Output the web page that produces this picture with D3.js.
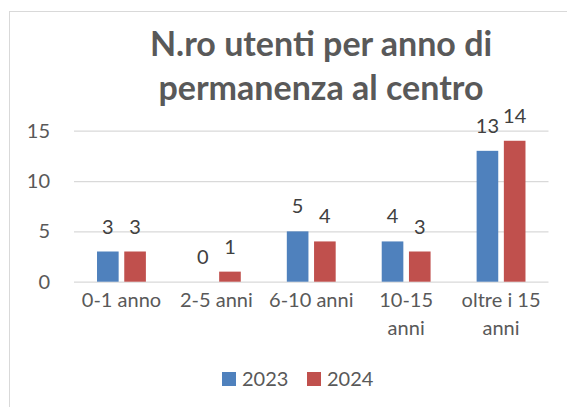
<html>
    <head>
        <script src="https://d3js.org/d3.v7.min.js"></script>
        <style>
            body { margin: 0; background: #fff }
            text { font-family: Lato, "Open Sans", sans-serif }
        </style>
    </head>
    <body>
        <div id="container"></div>
        <script>
            // chart data
            const categories = ['0-1 anno', '2-5 anni', '6-10 anni', '10-15 anni', 'oltre i 15 anni']
            const seriesNames = ['2023', '2024']
            const values2023 = [3, 0, 5, 4, 13]
            const values2024 = [3, 1, 4, 3, 14]
            const yTicks = [0, 5, 10, 15]
            const titleLines = ['N.ro utenti per anno di', 'permanenza al centro']

            const colors = { '2023': '#4f81bd', '2024': '#c0504d' }
            const dimensions = { width: 567, height: 407 }
            const plot = { left: 74, right: 548.5, top: 130.7, bottom: 281.7 }
            const fontSize = 20

            const svg = d3.select('#container')
                .append('svg')
                .attr('width', dimensions.width)
                .attr('height', dimensions.height)

            // chart area border
            svg.append('rect')
                .attr('x', 9.5).attr('y', 11.5)
                .attr('width', 600).attr('height', 450)
                .attr('fill', '#fff')
                .attr('stroke', '#d9d9d9')

            // title, sized to fit the reference width
            const title = svg.append('g')
            titleLines.forEach((line, i) => {
                title.append('text')
                    .attr('x', 321)
                    .attr('y', 56 + i * 44)
                    .attr('text-anchor', 'middle')
                    .attr('font-weight', 'bold')
                    .attr('font-size', 32)
                    .attr('fill', '#595959')
                    .text(line)
            })
            const firstLen = title.select('text').node().getComputedTextLength()
            const titleSize = Math.min(34, 32 * 348 / firstLen)
            title.selectAll('text').attr('font-size', titleSize)

            const y = d3.scaleLinear().domain([0, 15]).range([plot.bottom, plot.top])
            const x0 = d3.scaleBand().domain(categories).range([plot.left, plot.right])
            const x1 = d3.scaleBand().domain(seriesNames)
                .range([0, x0.bandwidth()])
                .paddingInner(0.206)
                .paddingOuter(0.845)

            // y axis with gridlines
            const yAxis = svg.append('g')
                .attr('transform', `translate(${plot.left},0)`)
                .call(d3.axisLeft(y).tickValues(yTicks)
                    .tickSize(-(plot.right - plot.left))
                    .tickPadding(24))
            yAxis.select('.domain').remove()
            yAxis.selectAll('line').attr('stroke', '#d9d9d9').attr('stroke-width', 1.3)
            yAxis.selectAll('text')
                .attr('font-size', fontSize)
                .attr('fill', '#595959')
                .attr('font-family', 'Lato, sans-serif')

            // bars
            const rows = categories.map((c, i) => ({
                cat: c,
                vals: [
                    { key: '2023', v: values2023[i] },
                    { key: '2024', v: values2024[i] }
                ]
            }))

            const groups = svg.selectAll('g.cat')
                .data(rows)
                .enter()
                .append('g')
                .attr('class', 'cat')
                .attr('transform', d => `translate(${x0(d.cat)},0)`)

            groups.selectAll('rect')
                .data(d => d.vals)
                .enter()
                .append('rect')
                .attr('x', d => x1(d.key))
                .attr('y', d => y(d.v))
                .attr('width', x1.bandwidth())
                .attr('height', d => y(0) - y(d.v))
                .attr('fill', d => colors[d.key])

            // data labels
            groups.selectAll('text.lbl')
                .data(d => d.vals)
                .enter()
                .append('text')
                .attr('class', 'lbl')
                .attr('x', d => x1(d.key) + x1.bandwidth() / 2)
                .attr('y', d => y(d.v) - 18)
                .attr('text-anchor', 'middle')
                .attr('font-size', fontSize)
                .attr('fill', '#404040')
                .text(d => d.v)

            // x axis labels, wrapped like the original
            const xAxis = svg.append('g')
                .attr('transform', `translate(0,${plot.bottom})`)
                .call(d3.axisBottom(x0).tickSize(0).tickPadding(25))
            xAxis.select('.domain').remove()
            xAxis.selectAll('text')
                .attr('font-size', fontSize)
                .attr('fill', '#595959')
                .attr('font-family', 'Lato, sans-serif')
                .each(function(d) {
                    const t = d3.select(this)
                    const words = d.split(' ')
                    const lines = []
                    let cur = []
                    t.text(null)
                    const probe = t.append('tspan')
                    words.forEach(w => {
                        probe.text([...cur, w].join(' '))
                        if (cur.length && probe.node().getComputedTextLength() > 90) {
                            lines.push(cur.join(' '))
                            cur = [w]
                        } else {
                            cur.push(w)
                        }
                    })
                    lines.push(cur.join(' '))
                    probe.remove()
                    lines.forEach((l, i) => {
                        t.append('tspan')
                            .attr('x', 0)
                            .attr('dy', i === 0 ? 0 : 28)
                            .text(l)
                    })
                })

            // legend
            const legendX = [222, 307]
            const legend = svg.selectAll('g.legend')
                .data(seriesNames)
                .enter()
                .append('g')
                .attr('class', 'legend')
                .attr('transform', (d, i) => `translate(${legendX[i]},372)`)
            legend.append('rect')
                .attr('width', 14).attr('height', 14)
                .attr('fill', d => colors[d])
            legend.append('text')
                .attr('x', 20).attr('y', 14)
                .attr('font-size', fontSize)
                .attr('fill', '#595959')
                .text(d => d)
        </script>
    </body>
</html>
